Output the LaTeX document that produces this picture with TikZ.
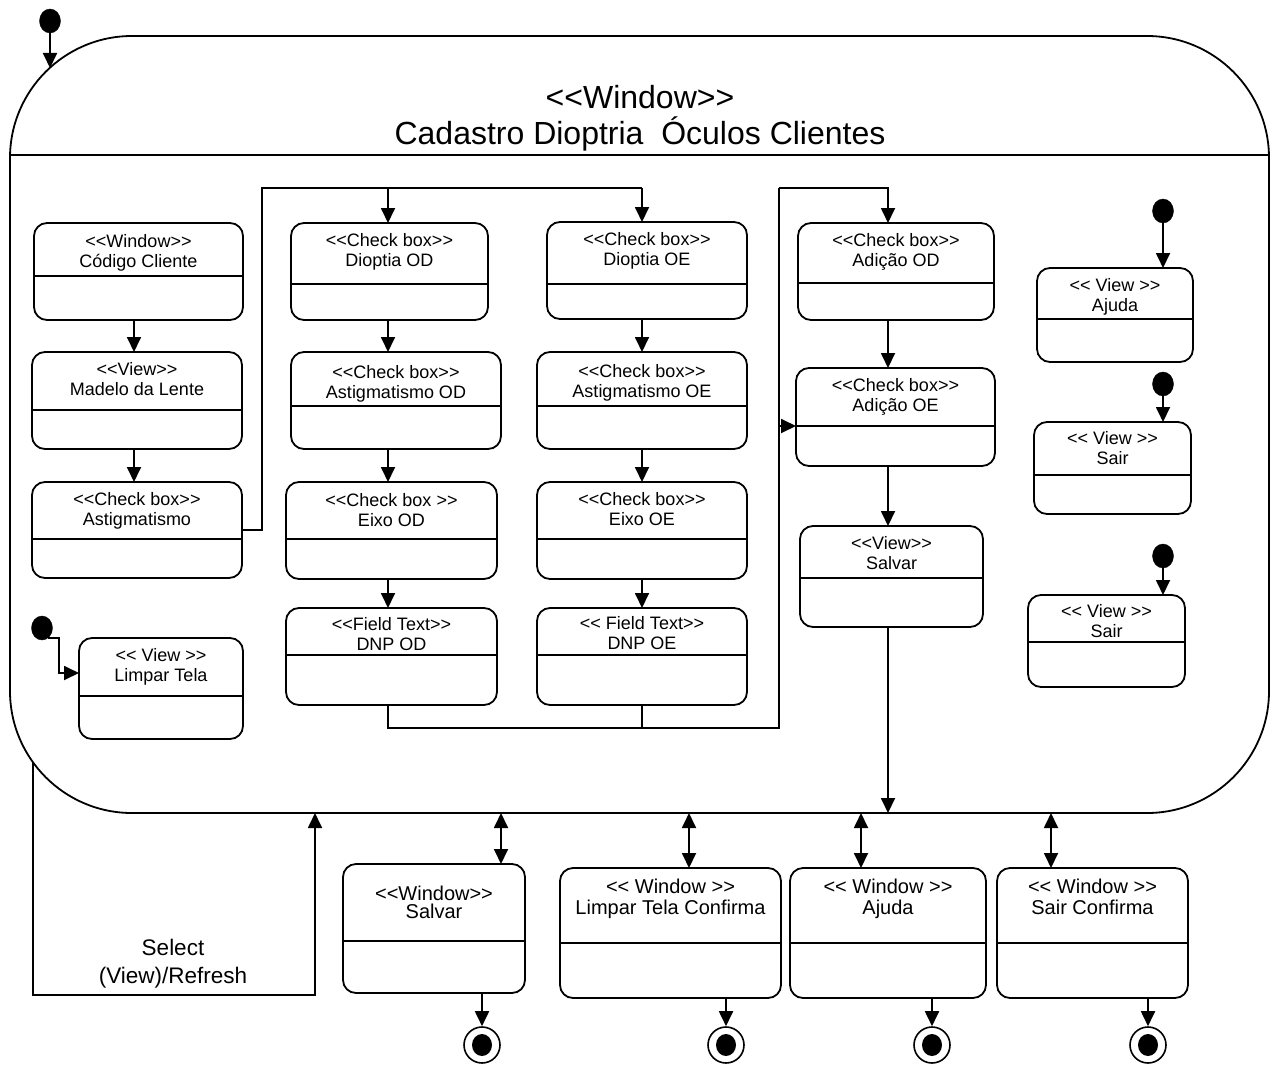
\documentclass[tikz,border=0pt]{standalone}
\usepackage{fontspec}
\setmainfont{Liberation Sans}[Ligatures=TeXOff]
\usetikzlibrary{arrows.meta,shapes.geometric}
\newcommand\uboxfont{\fontsize{18}{20}\selectfont}
\newcommand\uboxsp{20.5}
\newcommand\uboxsh{6}
\newcommand\ubox[9]{%
  \node[ubx, minimum width={(#4)-(#2)}, minimum height={(#5)-(#3)}] (#1) at ({((#2)+(#4))/2},{((#3)+(#5))/2}) {};
  \draw[line] (#2,#6) -- (#4,#6);
  \node[utxt] (#1-a) at ({((#2)+(#4))/2},{(#7)+\uboxsh}) {#8};
  \node[utxt] (#1-b) at ({((#2)+(#4))/2},{(#7)+\uboxsh+\uboxsp}) {#9};
}
\begin{document}
\begin{tikzpicture}[x=1pt,y=-1pt,
  line/.style={line width=1.8pt, line join=miter},
  arr/.style={line, -{Triangle[length=15pt,width=14pt]}},
  darr/.style={line, {Triangle[length=15pt,width=14pt]}-{Triangle[length=15pt,width=14pt]}},
  ubx/.style={draw, line width=1.8pt, rounded corners=13pt, inner sep=0pt, outer sep=0pt},
  utxt/.style={inner sep=0pt, anchor=base, font=\uboxfont},
  init/.style={ellipse, fill=black, draw=black, inner sep=0pt, minimum width=21pt, minimum height=24pt},
  fin/.style={circle, draw, line width=1.6pt, minimum size=36pt, inner sep=0pt,
    path picture={\fill (path picture bounding box.center) ellipse (10pt and 11pt);}},
  ttl/.style={inner sep=0pt, anchor=base, font=\fontsize{32}{36}\selectfont},
  sel/.style={inner sep=0pt, anchor=base, font=\fontsize{22.5}{28}\selectfont},
]
\useasboundingbox (0,0) rectangle (1276,1065);

% main window
\node[ubx, rounded corners=122pt, minimum width=1259pt, minimum height=777pt] (win) at (639.5,424.5) {};
\draw[line] (10,155) -- (1269,155);
\node[ttl] (t1) at (640,108.5) {<<Window>>};
\node[ttl] (t2) at (640,144.5) {Cadastro Dioptria\ \ Óculos Clientes};

% column 1
\ubox{b1}{34}{223}{243}{320}{276}{241}{<<Window>>}{Código Cliente}
\ubox{b2}{32}{352}{242}{449}{410}{369}{<<View>>}{Madelo da Lente}
\ubox{b3}{32}{482}{242}{578}{539}{499}{<<Check box>>}{Astigmatismo}
\ubox{b4}{79}{638}{243}{739}{696}{655}{<< View >>}{Limpar Tela}
% column 2
\ubox{c1}{291}{223}{488}{320}{284}{240}{<<Check box>>}{Dioptia OD}
\ubox{c2}{291}{352}{501}{449}{406}{372}{<<Check box>>}{Astigmatismo OD}
\ubox{c3}{286}{482}{497}{579}{539}{500}{<<Check box >>}{Eixo OD}
\ubox{c4}{286}{608}{497}{705}{655}{624}{<<Field Text>>}{DNP OD}
% column 3
\ubox{d1}{547}{222}{747}{319}{284}{239}{<<Check box>>}{Dioptia OE}
\ubox{d2}{537}{352}{747}{449}{406}{371}{<<Check box>>}{Astigmatismo OE}
\ubox{d3}{537}{482}{747}{579}{539}{499}{<<Check box>>}{Eixo OE}
\ubox{d4}{537}{608}{747}{705}{655}{623}{<< Field Text>>}{DNP OE}
% column 4
\ubox{e1}{798}{223}{994}{320}{283}{240}{<<Check box>>}{Adição OD}
\ubox{e2}{796}{368}{995}{466}{426}{385}{<<Check box>>}{Adição OE}
\ubox{e3}{800}{526}{983}{627}{578}{543}{<<View>>}{Salvar}
% column 5
\ubox{f1}{1037}{268}{1193}{362}{319}{285}{<< View >>}{Ajuda}
\ubox{f2}{1034}{422}{1191}{514}{475}{438}{<< View >>}{Sair}
\ubox{f3}{1028}{595}{1185}{687}{642}{611}{<< View >>}{Sair}

% bottom windows
\renewcommand\uboxfont{\fontsize{20}{22}\selectfont}
\renewcommand\uboxsh{7}
\renewcommand\uboxsp{18}
\ubox{ws}{343}{864}{525}{993}{941}{893}{<<Window>>}{Salvar}
\renewcommand\uboxsp{21}
\ubox{lt}{560}{868}{781}{998}{943}{886}{<< Window >>}{Limpar Tela Confirma}
\ubox{aj}{790}{868}{986}{998}{943}{886}{<< Window >>}{Ajuda}
\ubox{sc}{997}{868}{1188}{998}{943}{886}{<< Window >>}{Sair Confirma}

% initial states
\node[init] (i0) at (50,21) {};
\node[init] (i4) at (42,628) {};
\node[init] (if1) at (1163,211) {};
\node[init] (if2) at (1163,384) {};
\node[init] (if3) at (1163,556) {};

% final states
\node[fin] (fa) at (482,1045) {};
\node[fin] (fb) at (726,1045) {};
\node[fin] (fc) at (932,1045) {};
\node[fin] (fd) at (1148,1045) {};

% helper coordinates
\coordinate (colE) at (134,0);
\coordinate (colA) at (388,0);
\coordinate (colB) at (642,0);
\coordinate (colC) at (888,0);
\coordinate (colD) at (1163,0);
\coordinate (a0) at (50,68);
\coordinate (tA) at (262,188);
\coordinate (tB) at (642,188);
\coordinate (jR) at (779,728);
\coordinate (jT) at (779,188);
\coordinate (jM) at (779,426);
\coordinate (k4) at (59,673);
\coordinate (s1) at (33,762);
\coordinate (s2) at (315,995);
\coordinate (dA) at (501,0);
\coordinate (dB) at (689,0);
\coordinate (dC) at (861,0);
\coordinate (dD) at (1051,0);

% connectors
\draw[arr] (i0) -- (a0);
\draw[arr] (b1.south -| colE) -- (b2.north -| colE);
\draw[arr] (b2.south -| colE) -- (b3.north -| colE);
\draw[line] (b3.east) -| (tA) -- (tB);
\draw[arr] (tA -| colA) -- (c1.north -| colA);
\draw[arr] (tB) -- (d1.north -| colB);
\draw[arr] (c1.south -| colA) -- (c2.north -| colA);
\draw[arr] (c2.south -| colA) -- (c3.north -| colA);
\draw[arr] (c3.south -| colA) -- (c4.north -| colA);
\draw[arr] (d1.south -| colB) -- (d2.north -| colB);
\draw[arr] (d2.south -| colB) -- (d3.north -| colB);
\draw[arr] (d3.south -| colB) -- (d4.north -| colB);
\draw[line] (c4.south -| colA) |- (jR) -- (jT);
\draw[line] (d4.south -| colB) -- (colB |- jR);
\draw[arr] (jT) -| (e1.north -| colC);
\draw[arr] (jM) -- (jM -| e2.west);
\draw[arr] (e1.south -| colC) -- (e2.north -| colC);
\draw[arr] (e2.south -| colC) -- (e3.north -| colC);
\draw[arr] (e3.south -| colC) -- (win.south -| colC);
\draw[arr] (if1) -- (f1.north -| colD);
\draw[arr] (if2) -- (f2.north -| colD);
\draw[arr] (if3) -- (f3.north -| colD);
\draw[arr] (i4.-60) -| (k4) -- (k4 -| b4.west);

% select / refresh loop
\draw[arr] (s1) |- (s2) -- (win.south -| s2);
\node[sel] (sl1) at (173,955) {Select};
\node[sel] (sl2) at (173,983) {(View)/Refresh};

% bottom double arrows
\draw[darr] (win.south -| dA) -- (ws.north -| dA);
\draw[darr] (win.south -| dB) -- (lt.north -| dB);
\draw[darr] (win.south -| dC) -- (aj.north -| dC);
\draw[darr] (win.south -| dD) -- (sc.north -| dD);

% to final states
\draw[arr] (ws.south -| fa) -- (fa.north);
\draw[arr] (lt.south -| fb) -- (fb.north);
\draw[arr] (aj.south -| fc) -- (fc.north);
\draw[arr] (sc.south -| fd) -- (fd.north);
\end{tikzpicture}
\end{document}
